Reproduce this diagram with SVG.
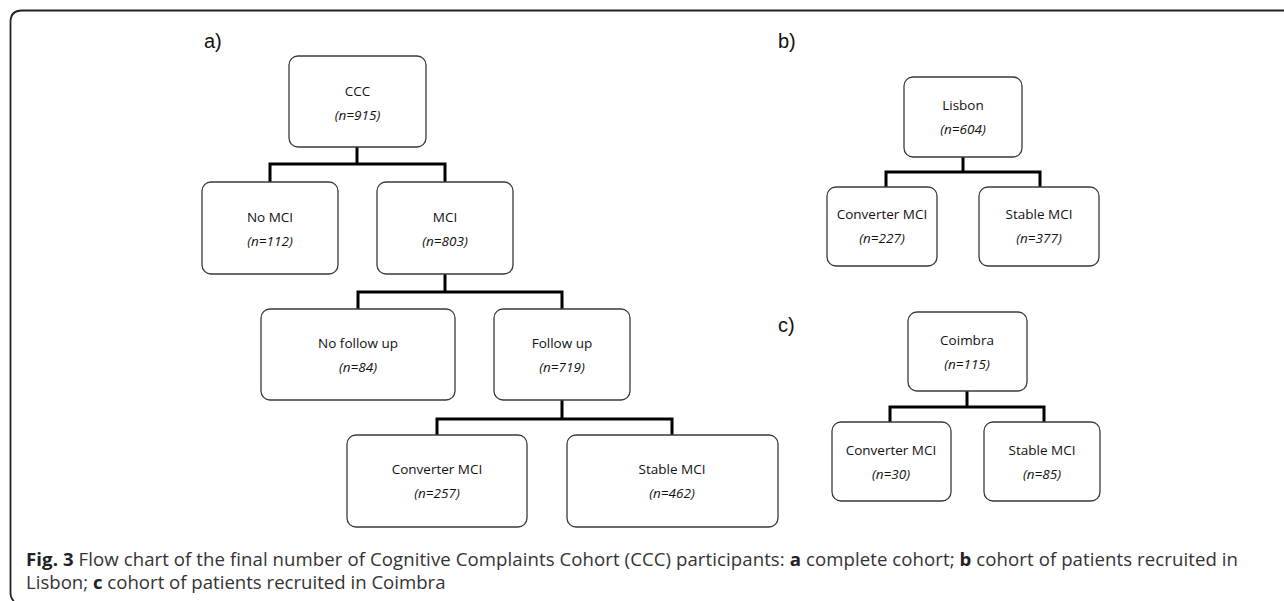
<svg xmlns="http://www.w3.org/2000/svg" width="1284" height="601" viewBox="0 0 1284 601">
<style>
.box{fill:#fff;stroke:#3a3a3a;stroke-width:1.3}
.t{font-family:"Open Sans","Liberation Sans",sans-serif;font-size:13.5px;fill:#111;text-anchor:middle}
.n{font-style:italic}
.lab{font-family:"Liberation Sans",Arial,sans-serif;font-size:20px;fill:#111}
.con{fill:none;stroke:#000;stroke-width:3}
.cap{font-family:"Open Sans","Noto Sans",sans-serif;font-size:18.6px;fill:#333}
</style>
<rect width="1284" height="601" fill="#fff"/>
<path d="M1284 10.5 H22 Q10.5 10.5 10.5 22 V592 Q10.5 599 14 601" fill="none" stroke="#222" stroke-width="1.8"/>
<text class="lab" x="204" y="48">a)</text>
<text class="lab" x="778" y="48">b)</text>
<text class="lab" x="778" y="332">c)</text>
<g id="connectors">
<path class="con" d="M357 147 V164 M270 183 V164 H445 V183"/>
<path class="con" d="M445 274 V292 M358 309 V292 H562 V309"/>
<path class="con" d="M562 400 V419 M437 435 V419 H672 V435"/>
<path class="con" d="M963 157 V172 M886 187 V172 H1040 V187"/>
<path class="con" d="M967 391 V407 M890 422 V407 H1044 V422"/>
</g>
<g id="ccc"><rect class="box" x="289" y="56" width="137" height="91" rx="9"/><text class="t" x="357.5" y="96">CCC</text><text class="t n" x="357.5" y="120">(n=915)</text></g>
<g id="nomci"><rect class="box" x="202" y="182" width="136" height="92" rx="9"/><text class="t" x="270" y="222">No MCI</text><text class="t n" x="270" y="246">(n=112)</text></g>
<g id="mci"><rect class="box" x="377" y="182" width="136" height="92" rx="9"/><text class="t" x="445" y="222">MCI</text><text class="t n" x="445" y="246">(n=803)</text></g>
<g id="nofollow"><rect class="box" x="261" y="309" width="194" height="91" rx="9"/><text class="t" x="358" y="348">No follow up</text><text class="t n" x="358" y="372">(n=84)</text></g>
<g id="follow"><rect class="box" x="494" y="309" width="136" height="91" rx="9"/><text class="t" x="562" y="348">Follow up</text><text class="t n" x="562" y="372">(n=719)</text></g>
<g id="convA"><rect class="box" x="347" y="435" width="180" height="92" rx="9"/><text class="t" x="437" y="474">Converter MCI</text><text class="t n" x="437" y="498">(n=257)</text></g>
<g id="stableA"><rect class="box" x="567" y="435" width="211" height="92" rx="9"/><text class="t" x="672" y="474">Stable MCI</text><text class="t n" x="672" y="498">(n=462)</text></g>
<g id="lisbon"><rect class="box" x="904" y="77" width="118" height="80" rx="9"/><text class="t" x="963" y="110">Lisbon</text><text class="t n" x="963" y="134">(n=604)</text></g>
<g id="convB"><rect class="box" x="827" y="187" width="110" height="79" rx="9"/><text class="t" x="882" y="219">Converter MCI</text><text class="t n" x="882" y="243">(n=227)</text></g>
<g id="stableB"><rect class="box" x="979" y="187" width="120" height="79" rx="9"/><text class="t" x="1039" y="219">Stable MCI</text><text class="t n" x="1039" y="243">(n=377)</text></g>
<g id="coimbra"><rect class="box" x="908" y="312" width="119" height="79" rx="9"/><text class="t" x="967" y="345">Coimbra</text><text class="t n" x="967" y="369">(n=115)</text></g>
<g id="convC"><rect class="box" x="832" y="422" width="119" height="79" rx="9"/><text class="t" x="891" y="455">Converter MCI</text><text class="t n" x="891" y="479">(n=30)</text></g>
<g id="stableC"><rect class="box" x="984" y="422" width="116" height="79" rx="9"/><text class="t" x="1042" y="455">Stable MCI</text><text class="t n" x="1042" y="479">(n=85)</text></g>
<text class="cap" x="26" y="566" textLength="1212" lengthAdjust="spacing"><tspan font-weight="bold" fill="#222">Fig. 3</tspan> Flow chart of the final number of Cognitive Complaints Cohort (CCC) participants: <tspan font-weight="bold" fill="#222">a</tspan> complete cohort; <tspan font-weight="bold" fill="#222">b</tspan> cohort of patients recruited in</text>
<text class="cap" x="26" y="589">Lisbon; <tspan font-weight="bold" fill="#222">c</tspan> cohort of patients recruited in Coimbra</text>
</svg>
